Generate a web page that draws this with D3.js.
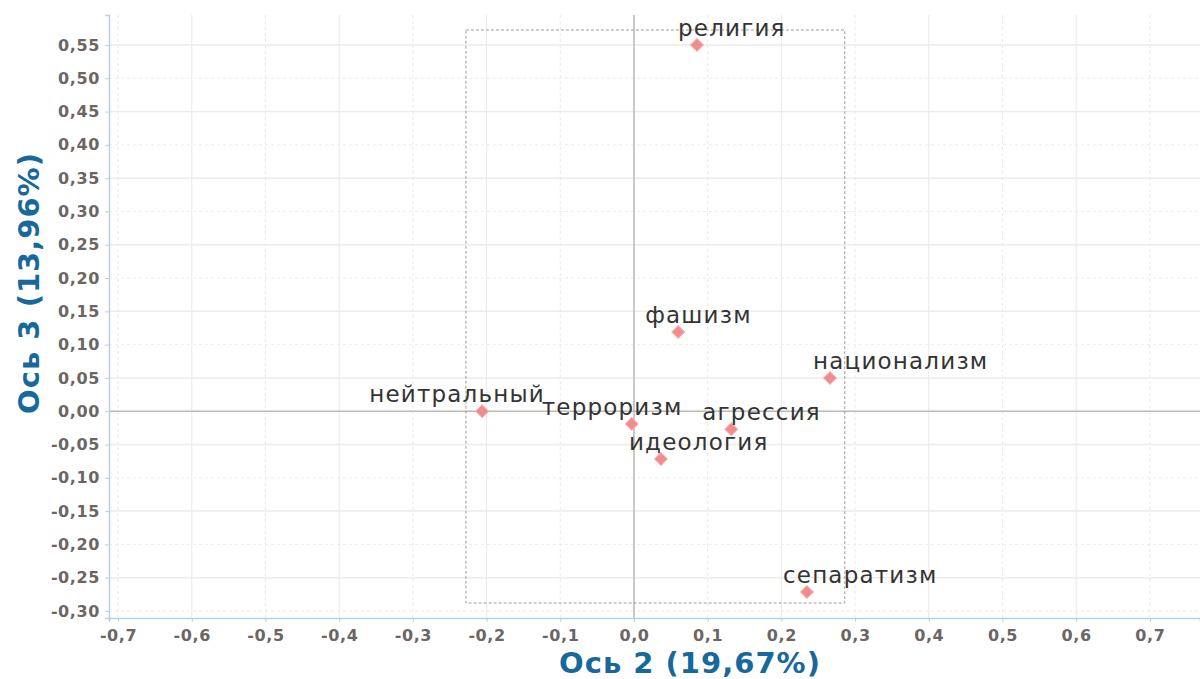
<!DOCTYPE html>
<html>
<head>
<meta charset="utf-8">
<script src="https://cdn.jsdelivr.net/npm/d3@7"></script>
<style>
  body { margin: 0; background: #fff; }
  .tick text { font-family: "DejaVu Sans", Verdana, sans-serif; font-weight: bold; fill: #6b6663; letter-spacing: 0.6px; }
</style>
</head>
<body>
<script>
// words and their coordinates on axes 2 and 3
const words = ["религия", "фашизм", "национализм", "нейтральный", "терроризм", "агрессия", "идеология", "сепаратизм"];
const axis2 = [0.0855, 0.060, 0.266, -0.206, -0.003, 0.132, 0.0366, 0.2347];
const axis3 = [0.550, 0.119, 0.0499, 0.0, -0.019, -0.027, -0.0718, -0.2715];
// horizontal shift of each label from its marker (px)
const labelDx = [-19, -33, -17, -113, -90, -29, -32, -24];

const xTicks = [-0.7, -0.6, -0.5, -0.4, -0.3, -0.2, -0.1, 0.0, 0.1, 0.2, 0.3, 0.4, 0.5, 0.6, 0.7];
const yTicks = [-0.30, -0.25, -0.20, -0.15, -0.10, -0.05, 0.00, 0.05, 0.10, 0.15, 0.20, 0.25, 0.30, 0.35, 0.40, 0.45, 0.50, 0.55];
// dashed zoom frame: [x0, y0, x1, y1] in data units
const zoomBox = [-0.228, 0.5725, 0.286, -0.288];

const xTitle = "Ось 2 (19,67%)";
const yTitle = "Ось 3 (13,96%)";

const box = {
    'width' : 1200,
    'height' : 679,
    'left' : 109,
    'right' : 1200,
    'top' : 15,
    'bottom' : 618,
};
const {width, height} = box;

const ru = d3.formatLocale({decimal: ",", thousands: " ", grouping: [3], currency: ["", ""], minus: "-"});

const x = d3.scaleLinear().domain([-0.7123, 0.768]).range([box.left, box.right]);
const y = d3.scaleLinear().domain([-0.3105, 0.595]).range([box.bottom, box.top]);

const svg = d3.select('body').append('svg')
    .attr('width', width)
    .attr('height', height);

// grid, very faint
const grid = svg.append('g');
grid.selectAll('line.gy')
    .data(yTicks)
    .enter().append('line')
    .attr('x1', box.left).attr('x2', box.right)
    .attr('y1', d => y(d)).attr('y2', d => y(d))
    .attr('stroke', '#eeebe8')
    .attr('stroke-width', (d, i) => i % 2 ? 1.5 : 1)
    .attr('stroke-dasharray', (d, i) => i % 2 ? null : '3,3');

grid.selectAll('line.gx')
    .data(xTicks)
    .enter().append('line')
    .attr('y1', box.top).attr('y2', box.bottom)
    .attr('x1', d => x(d)).attr('x2', d => x(d))
    .attr('stroke', '#ebe8e5')
    .attr('stroke-width', 1)
    .attr('stroke-dasharray', (d, i) => i % 2 ? null : '3,3');

// zero lines
svg.append('line')
    .attr('x1', box.left).attr('x2', box.right)
    .attr('y1', y(0)).attr('y2', y(0))
    .attr('stroke', '#bcb9b6').attr('stroke-width', 1.5);
svg.append('line')
    .attr('x1', x(0)).attr('x2', x(0))
    .attr('y1', box.top).attr('y2', box.bottom)
    .attr('stroke', '#bcb9b6').attr('stroke-width', 1.5);

// dashed frame
svg.append('rect')
    .attr('x', x(zoomBox[0]))
    .attr('y', y(zoomBox[1]))
    .attr('width', x(zoomBox[2]) - x(zoomBox[0]))
    .attr('height', y(zoomBox[3]) - y(zoomBox[1]))
    .attr('fill', 'none')
    .attr('stroke', '#a09c99')
    .attr('stroke-width', 1)
    .attr('stroke-dasharray', '3,2');

// axes
const xAxis = d3.axisBottom(x).tickValues(xTicks).tickFormat(ru.format('.1f')).tickSize(4).tickPadding(8);
const yAxis = d3.axisLeft(y).tickValues(yTicks).tickFormat(ru.format('.2f')).tickSize(4).tickPadding(5);

const gx = svg.append('g')
    .attr('transform', 'translate(0,' + box.bottom + ')')
    .call(xAxis);
const gy = svg.append('g')
    .attr('transform', 'translate(' + box.left + ',0)')
    .call(yAxis);

[gx, gy].forEach(g => {
    g.select('.domain').attr('stroke', '#b7d0e2').attr('stroke-width', 1.5);
    g.selectAll('.tick line').attr('stroke', '#b7d0e2');
    g.selectAll('.tick text').style('font-size', '16px');
});

// axis titles
svg.append('text')
    .attr('x', 690).attr('y', 673)
    .attr('text-anchor', 'middle')
    .style('font-family', '"DejaVu Sans", Verdana, sans-serif')
    .style('font-weight', 'bold')
    .style('font-size', '29px')
    .style('letter-spacing', '1px')
    .attr('fill', '#17699c')
    .text(xTitle);

svg.append('text')
    .attr('transform', 'translate(39,283) rotate(-90)')
    .attr('text-anchor', 'middle')
    .style('font-family', '"DejaVu Sans", Verdana, sans-serif')
    .style('font-weight', 'bold')
    .style('font-size', '29px')
    .style('letter-spacing', '1px')
    .attr('fill', '#17699c')
    .text(yTitle);

// points
const pts = svg.append('g');
pts.selectAll('rect')
    .data(words)
    .enter().append('rect')
    .attr('x', -4.5).attr('y', -4.5)
    .attr('width', 9).attr('height', 9)
    .attr('transform', (d, i) => 'translate(' + x(axis2[i]) + ',' + y(axis3[i]) + ') rotate(45)')
    .attr('fill', '#f08c8c')
    .attr('stroke', '#f4aaaa')
    .attr('stroke-width', 1);

pts.selectAll('text')
    .data(words)
    .enter().append('text')
    .attr('x', (d, i) => x(axis2[i]) + labelDx[i])
    .attr('y', (d, i) => y(axis3[i]) - 9)
    .style('font-family', '"DejaVu Sans", Verdana, sans-serif')
    .style('font-size', '23px')
    .style('letter-spacing', '1.2px')
    .attr('fill', '#333')
    .text(d => d);
</script>
</body>
</html>
